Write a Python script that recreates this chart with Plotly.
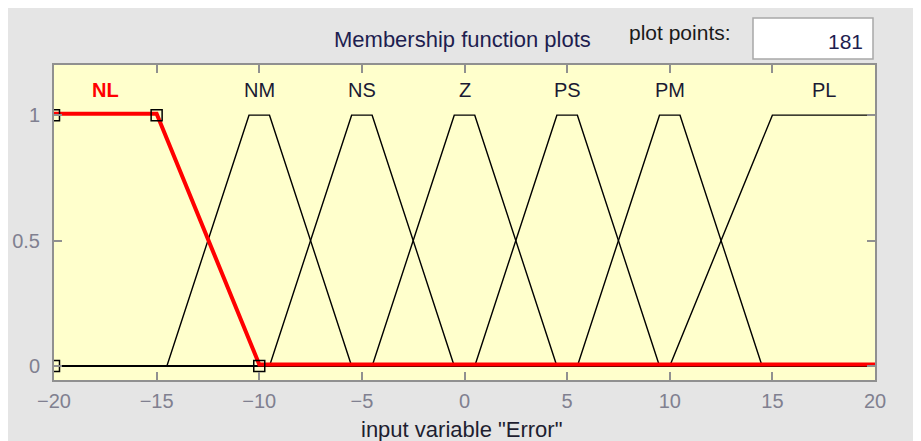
import plotly.graph_objects as go

# ---- data ----
x_range = [-20, 20]
mf_names = ["NL", "NM", "NS", "Z", "PS", "PM", "PL"]
mf_params = [
    [-20, -20, -15, -10],
    [-14.5, -10.5, -9.5, -5.5],
    [-9.5, -5.5, -4.5, -0.5],
    [-4.5, -0.5, 0.5, 4.5],
    [0.5, 4.5, 5.5, 9.5],
    [5.5, 9.5, 10.5, 14.5],
    [10, 15, 20, 20],
]
label_x = [-17.5, -10, -5, 0, 5, 10, 17.5]
x_ticks = [-20, -15, -10, -5, 0, 5, 10, 15, 20]
y_ticks = [0, 0.5, 1]
y_tick_text = ["0", "0.5", "1"]
plot_points = 181
selected = 0

OFF = 8  # page body margin
W, H = 921 - OFF, 441 - OFF
L, R, T, B = 54 - OFF, 875 - OFF, 65 - OFF, 380 - OFF
GRAY = "#e5e5e5"
FONT = "Liberation Sans, Arial"


def px2paper_x(px):  # screenshot px -> paper
    return (px - OFF - L) / (R - L)


def px2paper_y(py):
    return (B - (py - OFF)) / (B - T)


def mf_xy(p):
    a, b, c, d = p
    xs, ys = [], []
    if a == b == x_range[0]:
        xs += [a]; ys += [1]
    else:
        xs += [x_range[0], a, b]; ys += [0, 0, 1]
    if c == d == x_range[1]:
        xs += [d]; ys += [1]
    else:
        xs += [c, d, x_range[1]]; ys += [1, 0, 0]
    return xs, ys


fig = go.Figure()

for i, p in enumerate(mf_params):
    if i == selected:
        continue
    xs, ys = mf_xy(p)
    fig.add_trace(go.Scatter(x=xs, y=ys, mode="lines",
                             line=dict(color="black", width=1.4),
                             hoverinfo="skip", showlegend=False))

xs, ys = mf_xy(mf_params[selected])
fig.add_trace(go.Scatter(x=xs, y=[v + 0.006 for v in ys], mode="lines",
                         line=dict(color="#ff0000", width=4),
                         hoverinfo="skip", showlegend=False))
a, b, c, d = mf_params[selected]
fig.add_trace(go.Scatter(x=[a, b, c, d], y=[0, 1, 1, 0], mode="markers",
                         marker=dict(symbol="square-open", size=11,
                                     color="black", line=dict(width=1.5)),
                         cliponaxis=True,
                         hoverinfo="skip", showlegend=False))

for i, (name, lx) in enumerate(zip(mf_names, label_x)):
    fig.add_annotation(x=lx, y=1.10, text=("<b>%s</b>" % name) if i == selected else name,
                       showarrow=False, xref="x", yref="y",
                       font=dict(size=20, color="#ff0000" if i == selected else "#1a1a33",
                                 family=FONT))

shapes = [
    dict(type="rect", xref="paper", yref="paper", layer="above",
         x0=px2paper_x(753), x1=px2paper_x(873), y0=px2paper_y(59), y1=px2paper_y(18),
         fillcolor="white", line=dict(width=1.5, color="#a8a8a8")),
]

ann = [
    dict(x=px2paper_x(462), y=px2paper_y(39), text="Membership function plots",
         font=dict(size=22, color="#1e1e50", family=FONT)),
    dict(x=px2paper_x(680), y=px2paper_y(33), text="plot points:",
         font=dict(size=21, color="#1a1a1a", family=FONT)),
    dict(x=px2paper_x(865), y=px2paper_y(41), text=str(plot_points), xanchor="right",
         font=dict(size=21, color="#1e1e50", family=FONT)),
    dict(x=px2paper_x(461), y=px2paper_y(430), text='input variable "Error"',
         font=dict(size=22, color="#1e1e30", family=FONT)),
]
for an in ann:
    an.setdefault("xanchor", "center")
    fig.add_annotation(xref="paper", yref="paper", showarrow=False, yanchor="middle", **an)

axis_common = dict(ticks="inside", ticklen=8, tickcolor="#909090", tickwidth=1.5,
                   mirror="allticks", showline=True, linecolor="#909090", linewidth=2,
                   showgrid=False, zeroline=False, layer="above traces", automargin=False,
                   tickfont=dict(size=20, color="#808090", family=FONT))

fig.update_layout(
    width=W, height=H,
    margin=dict(l=L, r=W - R, t=T, b=H - B, pad=0, autoexpand=False),
    paper_bgcolor=GRAY,
    plot_bgcolor="#ffffcc",
    shapes=shapes,
    font=dict(family=FONT, size=20, color="#808090"),
    xaxis=dict(range=x_range, tickvals=x_ticks, ticklabelstandoff=2, **axis_common),
    yaxis=dict(range=[-0.056, 1.2], tickvals=y_ticks, ticktext=y_tick_text,
               ticklabelstandoff=8, **axis_common),
)

fig.write_html("out.html")
